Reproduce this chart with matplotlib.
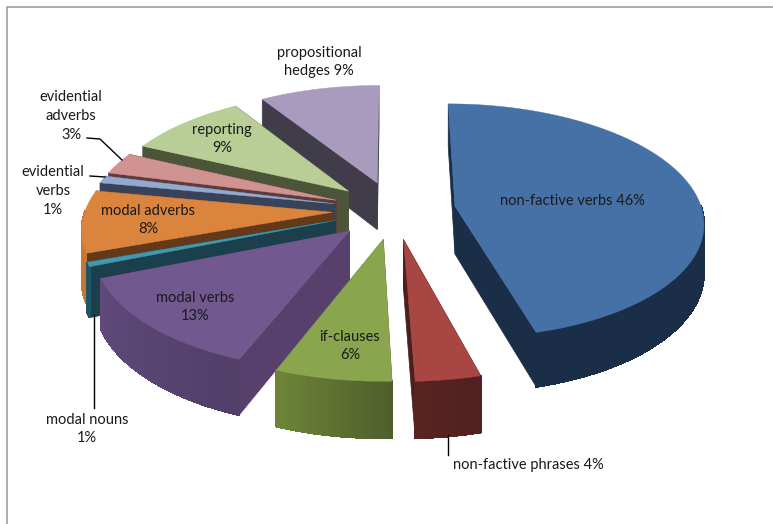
import numpy as np
import matplotlib
matplotlib.use('Agg')
import matplotlib.pyplot as plt
from matplotlib.colors import to_rgb

# Data, clockwise from 12 o'clock (slice sizes, labels as printed)
names = ['non-factive verbs', 'non-factive phrases', 'if-clauses', 'modal verbs', 'modal nouns',
         'modal adverbs', 'evidential verbs', 'evidential adverbs', 'reporting', 'propositional hedges']
percent = [45.8, 3.64, 6.49, 13.0, 0.6, 8.47, 1.0, 3.0, 9.0, 9.0]
label_text = ['non-factive verbs 46%', 'non-factive phrases 4%', 'if-clauses\n6%', 'modal verbs\n13%',
              'modal nouns\n1%', 'modal adverbs\n8%', 'evidential\nverbs\n1%', 'evidential\nadverbs\n3%',
              'reporting\n9%', 'propositional\nhedges 9%']
label_pos = [(572, 201), (528, 465), (350, 346), (195, 307), (87, 429),
             (148, 220), (53, 191), (71, 116), (222, 139), (319, 62)]

# Colours: top face, radial side, outer wall at start and end of the arc
top_col = ['#4571A7', '#A84644', '#89A54E', '#71588F', '#4198AF',
           '#DB843D', '#93A9CF', '#D19392', '#B9CD96', '#A99BBD']
side_col = ['#1B2E48', '#4A1F1D', '#55672E', '#58406C', '#1B3F4B',
            '#64391A', '#384359', '#5E3C3C', '#4D5539', '#413C4A']
wall_a = ['#1B2E48', '#4F2120', '#4E5F2B', '#513F68', '#1F5565',
          '#C77634', '#7C8FB0', '#B07C7B', '#9CAD7E', '#8F83A0']
wall_b = ['#1B2E48', '#5A2320', '#6F8538', '#5F4A7A', '#1F5565',
          '#C77634', '#7C8FB0', '#B07C7B', '#9CAD7E', '#8F83A0']

# Projection of the tilted pie, in pixels
cx, cy = 394, 210
rx, ry = 247, 116
persp = 0.125
explode = 0.25
depth = 48


def project(u, v, drop=0.0):
    s = 1 / (1 + persp * v)
    return cx + rx * u * s, cy - ry * v * s + drop * s


def mix(a, b, t):
    a, b = np.array(to_rgb(a)), np.array(to_rgb(b))
    return tuple(a + (b - a) * t)


def draw_slice(ax, i, start, end):
    mid = (start + end) / 2
    ou, ov = explode * np.sin(mid), explode * np.cos(mid)
    th = np.linspace(start, end, max(int((end - start) * 60), 3))
    u = ou + np.sin(th)
    v = ov + np.cos(th)

    # radial sides
    for k in (0, -1):
        x0, y0 = project(ou, ov)
        x1, y1 = project(u[k], v[k])
        x2, y2 = project(u[k], v[k], depth)
        x3, y3 = project(ou, ov, depth)
        ax.fill([x0, x1, x2, x3], [y0, y1, y2, y3], color=side_col[i], lw=0.5)

    # outer wall, in strips for the shading; only the part facing the viewer
    front = np.where(np.cos(th) < 0.02)[0]
    if len(front) > 1:
        xa, ya = project(u[front], v[front])
        xb, yb = project(u[front], v[front], depth)
        ax.fill(np.r_[xa, xb[::-1]], np.r_[ya, yb[::-1]], color=mix(wall_a[i], wall_b[i], 0.5), lw=0.3)
        for k in front[:-1]:
            xa, ya = project(u[k:k + 2], v[k:k + 2])
            xb, yb = project(u[k:k + 2], v[k:k + 2], depth)
            c = mix(wall_a[i], wall_b[i], k / (len(th) - 1))
            ax.fill(np.r_[xa, xb[::-1]], np.r_[ya, yb[::-1]], color=c, lw=0.8, antialiased=False)

    # top face
    xt, yt = project(np.r_[ou, u], np.r_[ov, v])
    ax.fill(xt, yt, color=top_col[i], lw=0.3)


fig = plt.figure(figsize=(7.73, 5.24), dpi=100)
ax = fig.add_axes([0, 0, 1, 1])
ax.set_xlim(0, 773)
ax.set_ylim(524, 0)
ax.axis('off')

plt.rcParams['font.family'] = ['Lato', 'DejaVu Sans']

# chart frame
ax.plot([6.5, 6.5, 773], [524, 6.5, 6.5], color='#A0A0A0', lw=1.2)

edges = np.cumsum([0] + percent) / sum(percent) * 2 * np.pi
mids = (edges[:-1] + edges[1:]) / 2
# back slices first
for i in sorted(range(len(percent)), key=lambda n: -np.cos(mids[n])):
    draw_slice(ax, i, edges[i], edges[i + 1])

# leader lines
ax.plot([87, 100, 122], [138, 139, 160], color='black', lw=1)
ax.plot([90, 105], [176, 177], color='black', lw=1)
ax.plot([94, 94], [315, 408], color='black', lw=1)
ax.plot([448, 448], [435, 455], color='black', lw=1)

for txt, (lx, ly) in zip(label_text, label_pos):
    ax.text(lx, ly, txt, ha='center', va='center', fontsize=10.5, color='#1A1A1A', linespacing=1.42)

fig.savefig('out.png', dpi=100)
